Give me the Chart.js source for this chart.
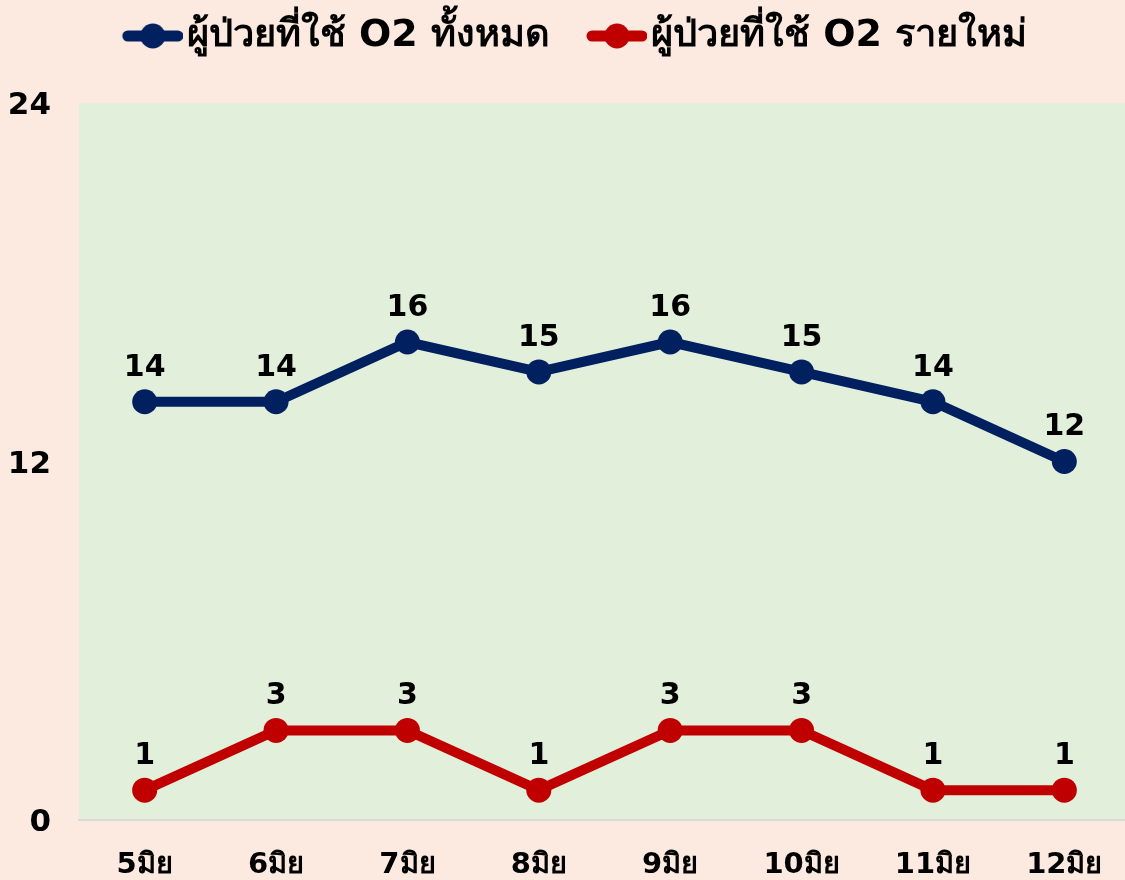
<!DOCTYPE html>
<html>
<head>
<meta charset="utf-8">
<script src="https://cdn.jsdelivr.net/npm/chart.js@4"></script>
<style>
  html, body { margin: 0; padding: 0; background: #FCEAE0; overflow: hidden; }
  #wrap { width: 1125px; height: 880px; overflow: hidden; }
</style>
</head>
<body>
<div id="wrap"><canvas id="chart" width="1130" height="880"></canvas></div>
<script>
// Data
const labels = ['5มิย', '6มิย', '7มิย', '8มิย', '9มิย', '10มิย', '11มิย', '12มิย'];
const totalO2 = [14, 14, 16, 15, 16, 15, 14, 12];
const newO2 = [1, 3, 3, 1, 3, 3, 1, 1];
const seriesNames = ['ผู้ป่วยที่ใช้ O2 ทั้งหมด', 'ผู้ป่วยที่ใช้ O2 รายใหม่'];
const yTicks = [0, 12, 24];

const NAVY = '#002060';
const RED = '#C00000';
const FONT = '"DejaVu Sans", Tahoma, sans-serif';

// legend marker: line with a dot, pushed right so it sits next to the text
function legendMarker(color) {
    const c = document.createElement('canvas');
    c.width = 95;
    c.height = 28;
    const g = c.getContext('2d');
    const x0 = 35;
    g.strokeStyle = color;
    g.lineWidth = 11;
    g.lineCap = 'round';
    g.beginPath();
    g.moveTo(x0 + 5, 14);
    g.lineTo(x0 + 55, 14);
    g.stroke();
    g.fillStyle = color;
    g.beginPath();
    g.arc(x0 + 30, 14, 12.5, 0, Math.PI * 2);
    g.fill();
    return c;
}

// green plot background
const plotBg = {
    id: 'plotBg',
    beforeDraw(chart) {
        const { ctx, chartArea: a } = chart;
        ctx.save();
        ctx.fillStyle = '#E2EFDA';
        ctx.fillRect(a.left, a.top, a.right - a.left, a.bottom - a.top);
        ctx.restore();
    }
};

// value labels above points
const valueLabels = {
    id: 'valueLabels',
    afterDatasetsDraw(chart) {
        const ctx = chart.ctx;
        ctx.save();
        ctx.font = 'bold 30px ' + FONT;
        ctx.fillStyle = '#000';
        ctx.textAlign = 'center';
        ctx.textBaseline = 'middle';
        chart.data.datasets.forEach((ds, i) => {
            chart.getDatasetMeta(i).data.forEach((pt, j) => {
                ctx.fillText(ds.data[j], pt.x, pt.y - 34);
            });
        });
        ctx.restore();
    }
};

// reserve the band above the plot for the legend
const legendSpace = {
    id: 'legendSpace',
    beforeInit(chart) {
        const legend = chart.legend;
        if (!legend) return;
        const fit = legend.fit;
        legend.fit = function () {
            fit.call(this);
            this.height = 103;
        };
    }
};

new Chart(document.getElementById('chart'), {
    type: 'line',
    data: {
        labels: labels,
        datasets: [
            {
                label: seriesNames[0],
                data: totalO2,
                borderColor: NAVY,
                backgroundColor: NAVY,
                borderWidth: 10,
                pointRadius: 12.5,
                pointHoverRadius: 12.5,
                pointBackgroundColor: NAVY,
                pointBorderWidth: 0,
                tension: 0
            },
            {
                label: seriesNames[1],
                data: newO2,
                borderColor: RED,
                backgroundColor: RED,
                borderWidth: 10,
                pointRadius: 12.5,
                pointHoverRadius: 12.5,
                pointBackgroundColor: RED,
                pointBorderWidth: 0,
                tension: 0
            }
        ]
    },
    options: {
        responsive: false,
        animation: false,
        layout: { autoPadding: false, padding: 0 },
        plugins: {
            legend: {
                display: true,
                position: 'top',
                labels: {
                    usePointStyle: true,
                    pointStyleWidth: 65,
                    boxHeight: 28,
                    padding: 17,
                    color: '#000',
                    font: { family: FONT, size: 38, weight: 'bold' },
                    generateLabels(chart) {
                        return chart.data.datasets.map((ds, i) => ({
                            text: ds.label,
                            pointStyle: legendMarker(ds.borderColor),
                            fillStyle: ds.borderColor,
                            strokeStyle: ds.borderColor,
                            lineWidth: 0,
                            fontColor: '#000',
                            datasetIndex: i
                        }));
                    }
                }
            },
            tooltip: { enabled: false }
        },
        scales: {
            x: {
                offset: true,
                grid: { display: false, drawTicks: false },
                border: { display: true, color: '#D9D9D9', width: 2 },
                ticks: {
                    color: '#000',
                    padding: 28,
                    font: { family: FONT, size: 29, weight: 'bold' },
                    maxRotation: 0
                },
                afterFit(scale) {
                    scale.height = 60;
                    scale.paddingRight = 0;
                    scale.paddingLeft = 0;
                }
            },
            y: {
                min: 0,
                max: 24,
                afterBuildTicks(scale) {
                    scale.ticks = yTicks.map(v => ({ value: v }));
                },
                grid: { display: false, drawTicks: false },
                border: { display: false },
                ticks: {
                    color: '#000',
                    padding: 28,
                    labelOffset: 3,
                    font: { family: FONT, size: 31, weight: 'bold' }
                },
                afterFit(scale) { scale.width = 79; }
            }
        }
    },
    plugins: [legendSpace, plotBg, valueLabels]
});
</script>
</body>
</html>
